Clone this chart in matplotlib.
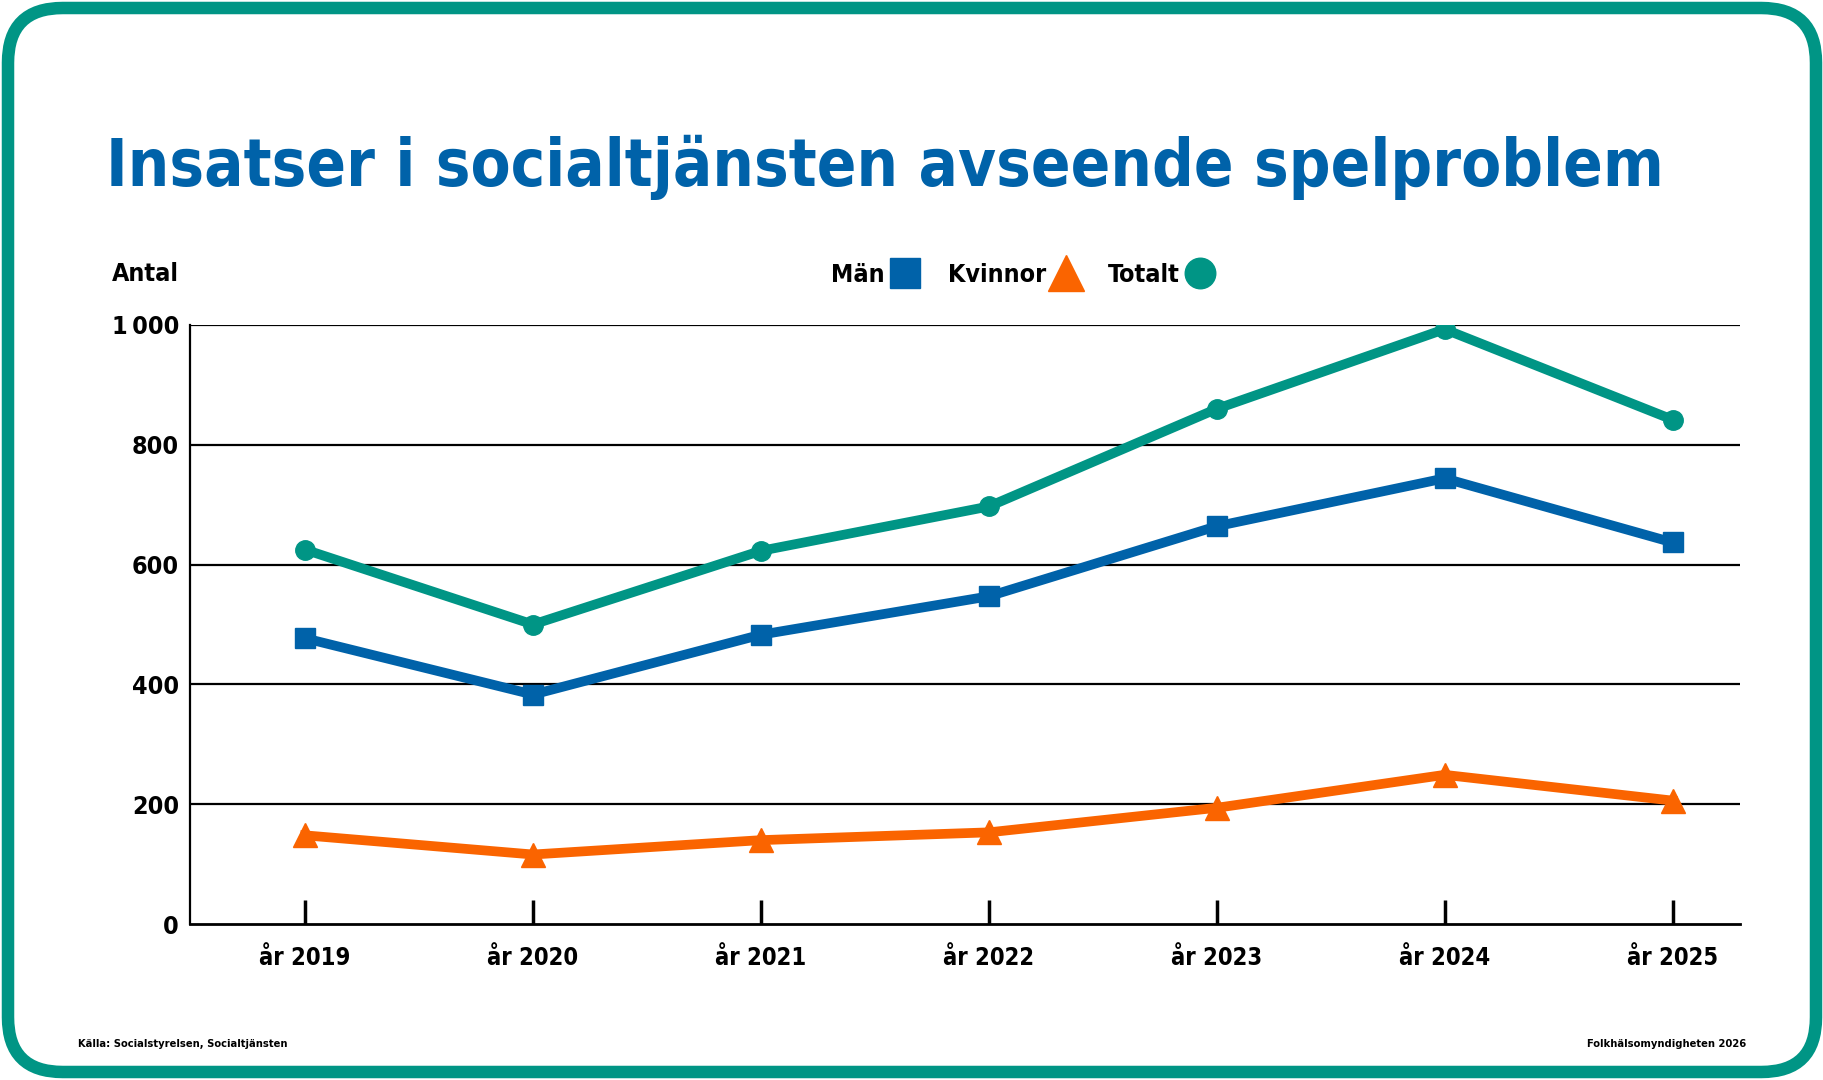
import numpy as np
import matplotlib.pyplot as plt
from matplotlib.patches import FancyBboxPatch
from matplotlib.lines import Line2D

# data
ar = ["år 2019", "år 2020", "år 2021", "år 2022", "år 2023", "år 2024", "år 2025"]
man = [477, 383, 483, 547, 664, 744, 637]
kvinnor = [148, 116, 140, 153, 194, 249, 206]
totalt = [625, 500, 623, 697, 860, 993, 842]
yticks = [0, 200, 400, 600, 800, 1000]
ytick_labels = ["0", "200", "400", "600", "800", "1\u2009000"]

BLA = "#0062a9"
ORANGE = "#fa6400"
GRON = "#009585"

plt.rcParams['font.family'] = ['DejaVu Sans']
plt.rcParams['font.stretch'] = 'condensed'
plt.rcParams['font.weight'] = 'bold'

fig = plt.figure(figsize=(18.24, 10.8), dpi=100, facecolor="white")
W, H = 1824, 1080

# rundad ram
ram = FancyBboxPatch((8 / W, 8 / H), 1 - 16 / W, 1 - 16 / H,
                     boxstyle="round,pad=0,rounding_size=0.03",
                     transform=fig.transFigure, facecolor="none",
                     edgecolor=GRON, linewidth=9, mutation_aspect=W / H)
fig.patches.append(ram)

ax = fig.add_axes([190 / W, 1 - 924 / H, (1740 - 190) / W, (924 - 325) / H])
ax.set_facecolor("none")

x = np.arange(len(ar))
ax.plot(x, totalt, color=GRON, lw=7, marker="o", ms=14, zorder=3)
ax.plot(x, man, color=BLA, lw=7, marker="s", ms=15, zorder=3)
ax.plot(x, kvinnor, color=ORANGE, lw=7, marker="^", ms=17, zorder=3)

ax.set_xlim(-0.505, 6.296)
ax.set_ylim(0, 1000)
ax.set_yticks(yticks)
ax.set_yticklabels(ytick_labels)
ax.set_xticks(x)
ax.set_xticklabels(ar)
for yv in yticks[1:]:
    ax.axhline(yv, color="black", lw=1.6, zorder=1)

for s in ["top", "right"]:
    ax.spines[s].set_visible(False)
ax.spines["left"].set_linewidth(1.6)
ax.spines["bottom"].set_linewidth(2)
ax.tick_params(axis="x", direction="in", length=17, width=2.5, pad=16,
               labelsize=17)
ax.tick_params(axis="y", length=0, pad=8, labelsize=18)

fig.text(112 / W, 1 - 274 / H, "Antal", fontsize=18, fontweight="bold",
         va="center", ha="left")

fig.text(106 / W, 1 - 186 / H, "Insatser i socialtjänsten avseende spelproblem",
         fontsize=46.8, fontweight="bold", color=BLA, ha="left", va="baseline")

handles = [Line2D([], [], color=BLA, marker="s", ls="none", ms=22),
           Line2D([], [], color=ORANGE, marker="^", ls="none", ms=26),
           Line2D([], [], color=GRON, marker="o", ls="none", ms=22)]
fig.legend(handles, ["Män", "Kvinnor", "Totalt"], loc="center",
           bbox_to_anchor=(1022 / W, 1 - 275 / H), ncol=3, frameon=False,
           markerfirst=False, fontsize=18, handlelength=1.0,
           handletextpad=0.3, columnspacing=1.2)

fig.text(78 / W, 1 - 1044 / H, "Källa: Socialstyrelsen, Socialtjänsten",
         fontsize=8, ha="left", va="center")
fig.text(1746 / W, 1 - 1044 / H, "Folkhälsomyndigheten 2026",
         fontsize=8, ha="right", va="center")

fig.savefig("out.png", dpi=100)
